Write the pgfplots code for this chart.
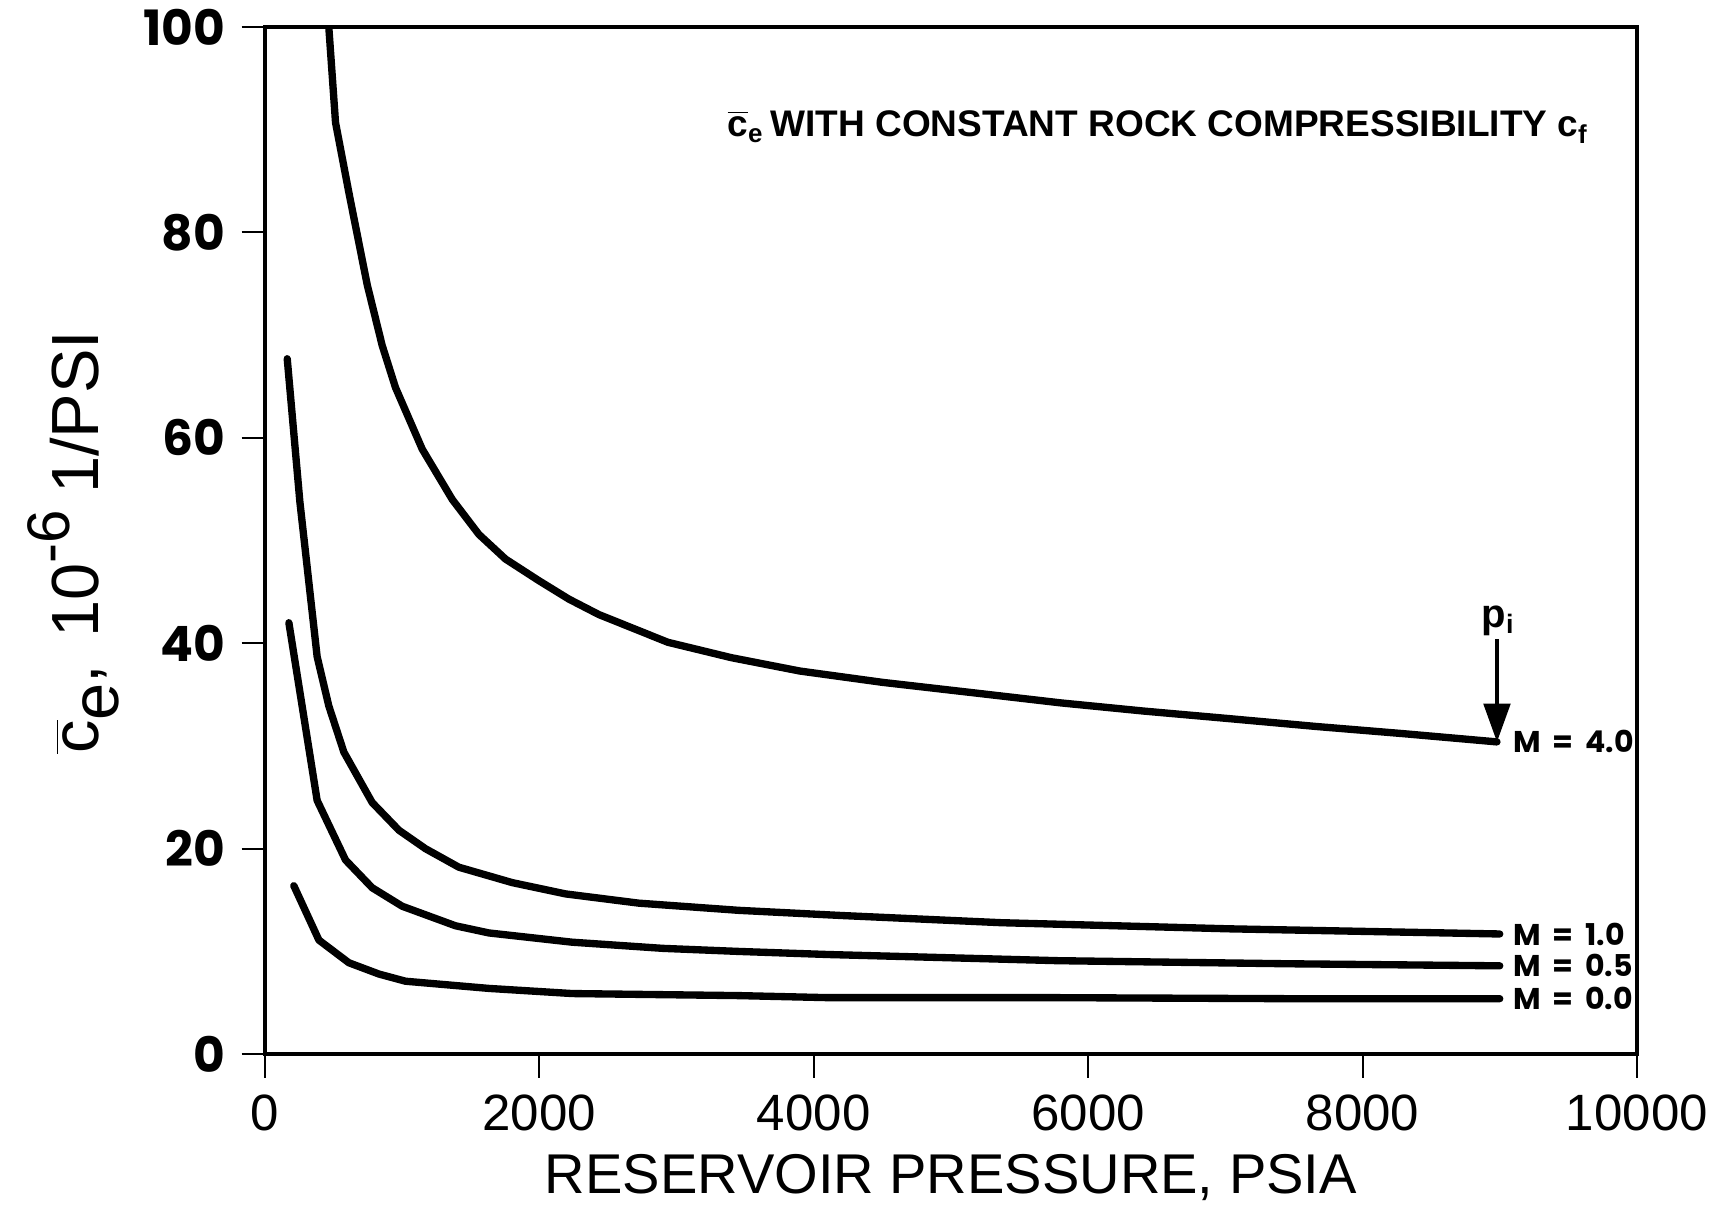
\documentclass[border=0pt]{standalone}
\usepackage{pgfplots}
\pgfplotsset{compat=1.18}
\usetikzlibrary{arrows.meta}
\usepackage{fontspec}
\setmainfont{Liberation Sans}
\newfontfamily\geo{Poppins}
\newcommand{\cbar}{\ensuremath{\overline{\mbox{c}}}}
\newcommand{\mlab}[1]{M\hspace{3.5pt}=\hspace{3.5pt}#1}
\begin{document}
\begin{tikzpicture}
\useasboundingbox (-79.4pt,-46.2pt) rectangle (435.6pt,316pt);
\begin{axis}[
  scale only axis, width=411.3pt, height=307.9pt,
  at={(0,0)}, anchor=south west,
  xmin=0, xmax=10000, ymin=0, ymax=100,
  scaled x ticks=false, scaled y ticks=false,
  xtick={0,2000,4000,6000,8000,10000},
  xticklabels={0,2000,4000,6000,8000,10000},
  ytick={0,20,40,60,80,100},
  yticklabels={0,20,40,60,80,100},
  tick align=outside, xtick pos=left, ytick pos=left,
  major tick length=7pt,
  tick style={line width=0.6pt, black},
  axis line style={line width=1.4pt},
  xticklabel shift=5pt, yticklabel shift=4.8pt,
  xticklabel style={font=\fontsize{15.3}{16}\selectfont, inner sep=0pt, anchor=north},
  yticklabel style={font=\geo\bfseries\fontsize{14.6}{16}\selectfont, inner sep=0pt, anchor=east},
  clip=true,
]
% M = 4.0
\addplot[line width=2.2pt, line join=round, line cap=round] coordinates {
(466,100) (515,90.7) (612,83.9) (746,74.9) (855,69.0) (952,64.9) (1147,58.9)
(1366,54.0) (1560,50.6) (1754,48.2) (1997,46.1) (2216,44.3) (2434,42.8)
(2937,40.1) (3400,38.6) (3899,37.3) (4500,36.2) (5153,35.2) (5800,34.2)
(6407,33.4) (7000,32.7) (7664,31.9) (8300,31.2) (8980,30.4)};
% M = 1.0
\addplot[line width=2.2pt, line join=round, line cap=round] coordinates {
(163,67.7) (255,53.8) (381,38.7) (466,33.9) (576,29.4) (782,24.5) (977,21.8)
(1171,20.0) (1414,18.2) (1803,16.7) (2192,15.6) (2726,14.7) (3455,14.0)
(4200,13.5) (5364,12.8) (7034,12.2) (9000,11.7)};
% M = 0.5
\addplot[line width=2.2pt, line join=round, line cap=round] coordinates {
(175,42.0) (381,24.7) (588,18.9) (782,16.2) (1001,14.4) (1389,12.5)
(1633,11.8) (2240,10.9) (2900,10.3) (3455,10.0) (4106,9.7) (5781,9.1)
(7457,8.8) (9000,8.6)};
% M = 0.0
\addplot[line width=2.2pt, line join=round, line cap=round] coordinates {
(211,16.4) (394,11.1) (612,8.9) (831,7.8) (1025,7.1) (1633,6.4) (2240,5.9)
(3455,5.7) (4106,5.5) (5781,5.5) (7457,5.4) (9000,5.4)};

\node[anchor=west, inner sep=0pt, font=\geo\bfseries\fontsize{9}{10}\selectfont] at (axis cs:9096,30.4) {\mlab{4.0}};
\node[anchor=west, inner sep=0pt, font=\geo\bfseries\fontsize{9}{10}\selectfont] at (axis cs:9096,11.7) {\mlab{1.0}};
\node[anchor=west, inner sep=0pt, font=\geo\bfseries\fontsize{9}{10}\selectfont] at (axis cs:9096,8.6) {\mlab{0.5}};
\node[anchor=west, inner sep=0pt, font=\geo\bfseries\fontsize{9}{10}\selectfont] at (axis cs:9096,5.4) {\mlab{0.0}};

\draw[line width=1pt, -{Triangle[length=11.5pt,width=8pt]}] (axis cs:8980,40.4) -- (axis cs:8980,30.4);
\node[anchor=base, inner sep=0pt, font=\bfseries\fontsize{12}{13}\selectfont] at (axis cs:8990,41.5) {p\textsubscript{i}};

\node[anchor=base, inner sep=0pt, font=\bfseries\fontsize{11.1}{12}\selectfont] at (axis cs:6510,89.3)
  {\cbar\textsubscript{e}\,WITH CONSTANT ROCK COMPRESSIBILITY c\textsubscript{f}};
\end{axis}
\node[anchor=base, inner sep=0pt, font=\fontsize{16.8}{18}\selectfont] at (205.65pt,-41.7pt) {RESERVOIR PRESSURE, PSIA};
\node[rotate=90, anchor=base, inner sep=0pt, font=\fontsize{20}{22}\selectfont] at (-50pt,153.5pt)
  {\cbar\raisebox{-6pt}{e},\hspace{8pt}10\raisebox{8.6pt}{\fontsize{18}{18}\selectfont -6}\hspace{5pt}1/PSI};
\end{tikzpicture}
\end{document}
